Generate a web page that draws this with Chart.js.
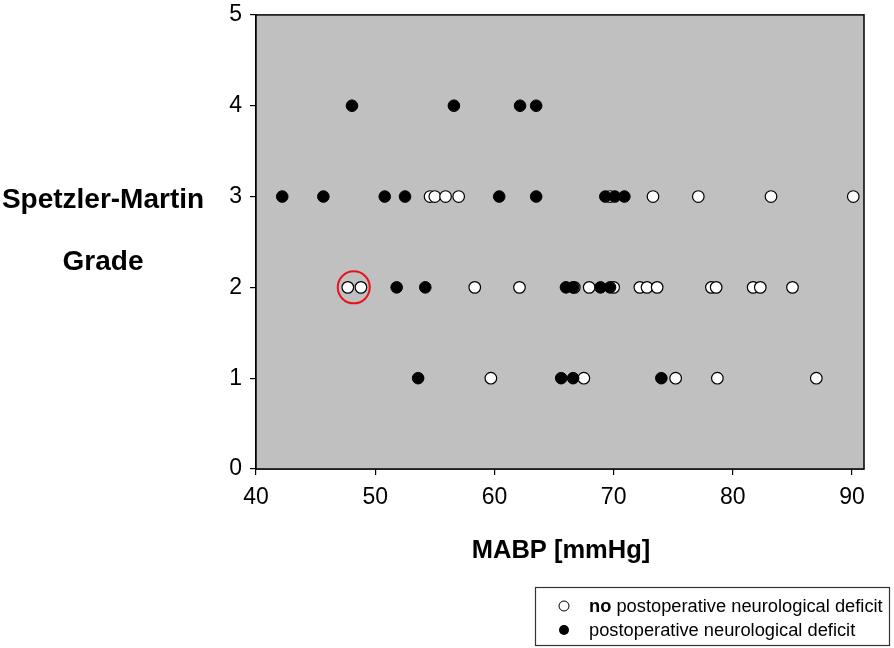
<!DOCTYPE html>
<html>
<head>
<meta charset="utf-8">
<script src="https://cdn.jsdelivr.net/npm/chart.js@4/dist/chart.umd.min.js"></script>
<style>
  html, body { margin: 0; padding: 0; background: #fff; }
  #wrap { width: 894px; height: 648px; }
</style>
</head>
<body>
<div id="wrap"><canvas id="smChart" width="894" height="648"></canvas></div>
<script>
// no postoperative neurological deficit (open circles)
const openMABP  = [54.6, 55.0, 55.9, 57.0, 69.7, 73.3, 77.1, 83.2, 90.1,
                   47.7, 48.8, 58.35, 62.1, 66.7, 67.95, 70.0, 72.2, 72.8, 73.65, 78.2, 78.6, 81.7, 82.3, 85.0,
                   59.7, 67.5, 75.2, 78.7, 87.0];
const openGrade = [3, 3, 3, 3, 3, 3, 3, 3, 3,
                   2, 2, 2, 2, 2, 2, 2, 2, 2, 2, 2, 2, 2, 2, 2,
                   1, 1, 1, 1, 1];

// postoperative neurological deficit (filled circles)
const filledMABP  = [48.05, 56.6, 62.15, 63.5,
                     42.2, 45.65, 50.8, 52.5, 60.4, 63.5, 69.3, 70.1, 70.9,
                     51.8, 54.2, 66.0, 66.6, 68.9, 69.7,
                     53.6, 65.6, 66.6, 74.0];
const filledGrade = [4, 4, 4, 4,
                     3, 3, 3, 3, 3, 3, 3, 3, 3,
                     2, 2, 2, 2, 2, 2,
                     1, 1, 1, 1];

// highlighted case (red ring)
const markedMABP = [48.2];
const markedGrade = [2];

const xTicks = [40, 50, 60, 70, 80, 90];
const yTicks = [0, 1, 2, 3, 4, 5];

const toPoints = (xs, ys) => xs.map((x, i) => ({ x: x, y: ys[i] }));

const frame = {
    id: 'frame',
    beforeDatasetsDraw(chart) {
        const a = chart.chartArea, c = chart.ctx;
        c.save();
        c.fillStyle = '#c0c0c0';
        c.fillRect(a.left, a.top, a.right - a.left, a.bottom - a.top);
        c.restore();
    },
    afterDraw(chart) {
        const a = chart.chartArea, c = chart.ctx;
        c.save();
        c.strokeStyle = '#000';
        c.lineWidth = 1.5;
        c.strokeRect(a.left, a.top, a.right - a.left, a.bottom - a.top);

        c.fillStyle = '#000';
        c.textAlign = 'center';
        c.textBaseline = 'middle';
        c.font = 'bold 28px "Liberation Sans", Arial, sans-serif';
        c.fillText('Spetzler-Martin', 103, 200);
        c.fillText('Grade', 103, 262);
        c.font = 'bold 25.5px "Liberation Sans", Arial, sans-serif';
        c.fillText('MABP [mmHg]', 561, 551);

        // legend box
        c.lineWidth = 1.2;
        c.strokeStyle = '#333';
        c.strokeRect(535.5, 587.5, 354, 58);
        c.lineWidth = 1;
        c.strokeStyle = '#000';
        c.beginPath();
        c.arc(564, 606, 5, 0, Math.PI * 2);
        c.fillStyle = '#fff';
        c.fill();
        c.stroke();
        c.beginPath();
        c.arc(564, 630, 5, 0, Math.PI * 2);
        c.fillStyle = '#000';
        c.fill();
        c.textAlign = 'left';
        c.font = 'bold 18.3px "Liberation Sans", Arial, sans-serif';
        c.fillText('no', 589, 607);
        const w = c.measureText('no').width;
        c.font = '18.3px "Liberation Sans", Arial, sans-serif';
        c.fillText(' postoperative neurological deficit', 589 + w, 607);
        c.fillText('postoperative neurological deficit', 589, 631);
        c.restore();
    }
};

new Chart(document.getElementById('smChart'), {
    type: 'scatter',
    data: {
        datasets: [
            {
                label: 'marked',
                data: toPoints(markedMABP, markedGrade),
                pointRadius: 16,
                pointBorderWidth: 2,
                pointBorderColor: '#e8141b',
                pointBackgroundColor: 'rgba(0,0,0,0)',
                order: 0
            },
            {
                label: 'postoperative neurological deficit',
                data: toPoints(filledMABP, filledGrade),
                pointRadius: 5.8,
                pointBorderWidth: 1,
                pointBorderColor: '#000',
                pointBackgroundColor: '#000',
                order: 1
            },
            {
                label: 'no postoperative neurological deficit',
                data: toPoints(openMABP, openGrade),
                pointRadius: 5.8,
                pointBorderWidth: 1.2,
                pointBorderColor: '#000',
                pointBackgroundColor: '#fff',
                order: 2
            }
        ]
    },
    options: {
        responsive: false,
        animation: false,
        layout: { autoPadding: false, padding: { top: 4, right: 30, left: 0, bottom: 0 } },
        plugins: { legend: { display: false }, tooltip: { enabled: false } },
        scales: {
            x: {
                type: 'linear',
                min: 40,
                max: 91,
                afterBuildTicks: s => { s.ticks = xTicks.map(v => ({ value: v })); },
                afterFit: s => { s.height = 179; },
                grid: { drawOnChartArea: false, drawTicks: true, tickLength: 6, color: '#000', lineWidth: 1.2 },
                border: { display: true, color: '#000', width: 1.5 },
                ticks: { color: '#000', padding: 9, font: { family: '"Liberation Sans", Arial, sans-serif', size: 23 } }
            },
            y: {
                type: 'linear',
                min: 0,
                max: 5,
                afterBuildTicks: s => { s.ticks = yTicks.map(v => ({ value: v })); },
                afterFit: s => { s.width = 256; },
                grid: { drawOnChartArea: false, drawTicks: true, tickLength: 6, color: '#000', lineWidth: 1.2 },
                border: { display: true, color: '#000', width: 1.5 },
                ticks: { color: '#000', padding: 8, font: { family: '"Liberation Sans", Arial, sans-serif', size: 23, lineHeight: 0.6 } }
            }
        }
    },
    plugins: [frame]
});
</script>
</body>
</html>
